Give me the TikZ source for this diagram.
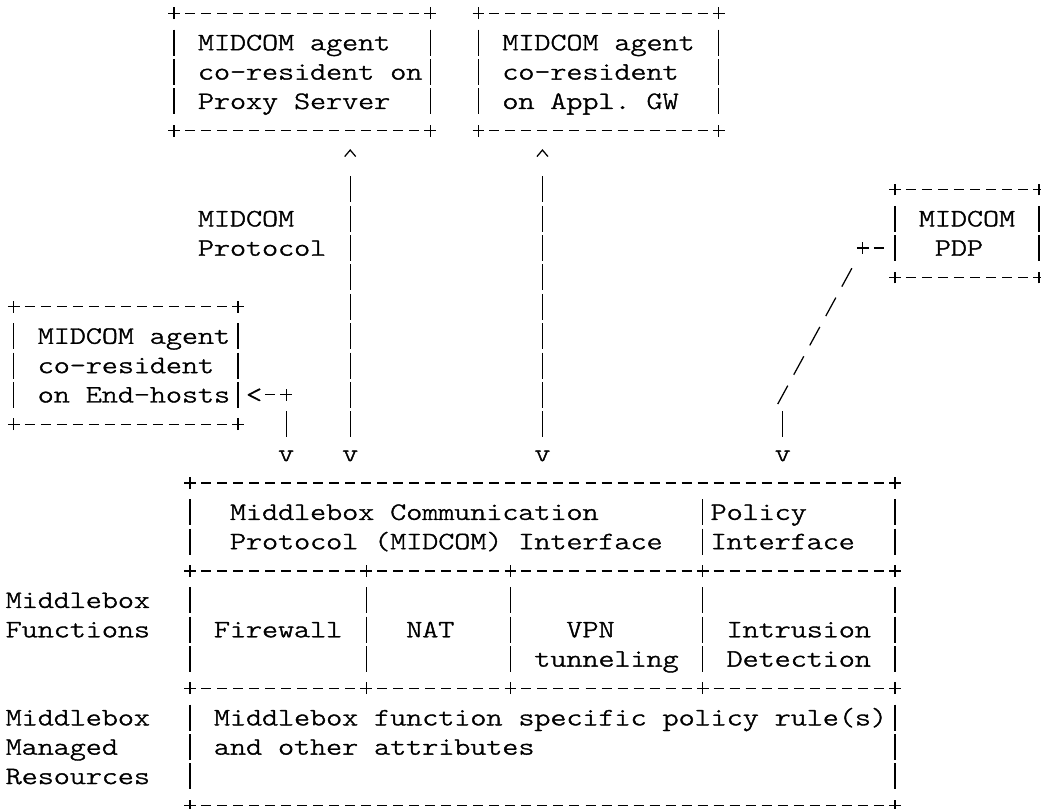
\documentclass[tikz,border=0pt]{standalone}
\usepackage{fontspec}
\usepackage{graphicx}
\newfontfamily\asciiff[FakeBold=1.5]{lmmonolt10-regular.otf}
\usetikzlibrary{calc,shapes.misc}
\newcommand{\asciifont}{\fontsize{24.9pt}{29.35pt}\selectfont\asciiff\frenchspacing}
\newcommand{\wide}[1]{\scalebox{1.2257}[1]{#1}}
\newcommand{\lines}[1]{\wide{\begin{tabular}[t]{@{}l@{}}#1\end{tabular}}}
\tikzset{
  asciiline/.style={line width=1.25pt, draw=black},
  hdash/.style={asciiline, dash pattern=on 10pt off 6.02pt, dash phase=13.01pt, shorten <=8.01pt, shorten >=8.01pt},
  vbar/.style={asciiline, dash pattern=on 26pt off 3.35pt, dash phase=27.675pt, shorten <=14.675pt, shorten >=14.675pt},
  slashline/.style={asciiline, dash pattern=on 21pt off 12.44pt, dash phase=27.22pt, shorten <=16.72pt},
  txt/.style={font=\asciifont, inner sep=0pt, outer sep=0pt, text height=15.2pt, text depth=0pt, anchor=west},
  glyph/.style={font=\asciifont, inner sep=0pt, outer sep=0pt, text height=15.2pt, text depth=0pt, anchor=center},
  plus/.style={cross out, draw=black, line width=1.25pt, minimum size=8.3pt, inner sep=0pt, outer sep=0pt, rotate=45},
  cell/.style 2 args={rectangle, inner sep=0pt, outer sep=0pt, minimum width={#1*16.02pt}, minimum height={#2*29.35pt}},
}
\newcommand{\asciibox}[1]{%
  \draw[hdash] (#1.north west) -- (#1.north east);
  \draw[hdash] (#1.south west) -- (#1.south east);
  \draw[vbar] (#1.north west) -- (#1.south west);
  \draw[vbar] (#1.north east) -- (#1.south east);
  \node[plus] (#1-nw) at (#1.north west) {};
  \node[plus] (#1-ne) at (#1.north east) {};
  \node[plus] (#1-sw) at (#1.south west) {};
  \node[plus] (#1-se) at (#1.south east) {};
}
% caret arrowhead "^" drawn above the centre of a named glyph node
\newcommand{\caret}[1]{%
  \draw[asciiline, line join=miter] ([shift={(-5.5pt,3.5pt)}]#1.center) -- ([shift={(0pt,10pt)}]#1.center) -- ([shift={(5.5pt,3.5pt)}]#1.center);
}
\begin{document}
\begin{tikzpicture}[x=16.02pt, y=-29.35pt]
\useasboundingbox (-0.86,-0.453) rectangle (64.12,27.11);

% ---- boxes (grid: x = column centre, y = row centre)
\node[cell={16}{4}] (proxy) at (18,2) {};
\node[cell={15}{4}] (applgw) at (36.5,2) {};
\node[cell={9}{3}] (pdp) at (59.5,7.5) {};
\node[cell={14}{4}] (endhost) at (7,12) {};
\node[cell={44}{11}] (mb) at (33,21.5) {};
\node[cell={32}{3}] (mbproto) at (27,17.5) {};
\node[cell={12}{3}] (mbpolicy) at (49,17.5) {};
\node[cell={11}{4}] (fw) at (16.5,21) {};
\node[cell={9}{4}] (nat) at (26.5,21) {};
\node[cell={12}{4}] (vpn) at (37,21) {};
\node[cell={12}{4}] (ids) at (49,21) {};
\node[cell={44}{4}] (res) at (33,25) {};

\asciibox{proxy}
\asciibox{applgw}
\asciibox{pdp}
\asciibox{endhost}

% ---- middlebox table
\draw[hdash] (mb.north west) -- (mb.north east);
\draw[hdash] (mb.south west) -- (mb.south east);
\draw[hdash] (fw.north west) -- (ids.north east);
\draw[hdash] (res.north west) -- (res.north east);
\foreach \n in {mbproto,fw,res} \draw[vbar] (\n.north west) -- (\n.south west);
\foreach \n in {mbpolicy,ids,res} \draw[vbar] (\n.north east) -- (\n.south east);
\foreach \n in {mbpolicy,nat,vpn,ids} \draw[vbar] (\n.north west) -- (\n.south west);
\node[plus] (mb-nw) at (mb.north west) {};
\node[plus] (mb-ne) at (mb.north east) {};
\node[plus] (mb-sw) at (mb.south west) {};
\node[plus] (mb-se) at (mb.south east) {};
\foreach \n in {fw,nat,vpn,ids} {
  \node[plus] (\n-top) at (\n.north west) {};
  \node[plus] (\n-bot) at (\n.south west) {};
}
\node[plus] (ids-tr) at (ids.north east) {};
\node[plus] (ids-br) at (ids.south east) {};

% ---- connectors
\node[glyph] (proxyup) at ($(proxy.south)+(3,1)$) {};
\caret{proxyup}
\node[glyph] (proxydn) at ($(proxyup |- mb.north)+(0,-1)$) {\wide{v}};
\draw[vbar] (proxyup.center) -- (proxydn.center);

\node[glyph] (gwup) at ($(applgw.south)+(-3.5,1)$) {};
\caret{gwup}
\node[glyph] (gwdn) at ($(gwup |- mb.north)+(0,-1)$) {\wide{v}};
\draw[vbar] (gwup.center) -- (gwdn.center);

\node[glyph] (ehtip) at ($(endhost.east)+(1,1)$) {\wide{<}};
\node[plus] (ehcorner) at ($(ehtip)+(2,0)$) {};
\node[glyph] (ehdn) at ($(ehcorner |- mb.north)+(0,-1)$) {\wide{v}};
\draw[hdash] (ehtip.center) -- (ehcorner.center);
\draw[vbar] (ehcorner.center) -- (ehdn.center);

\node[plus] (pdpknee) at ($(pdp.west)+(-2,0.5)$) {};
\node[glyph] (pdpdn) at ($(pdpknee |- mb.north)+(-5,-1)$) {\wide{v}};
\coordinate (pdpbend) at ($(pdpdn)+(0,-2)$);
\draw[hdash] (pdpknee.center) -- (pdp.west |- pdpknee);
\draw[slashline] (pdpknee.center) -- ($(pdpbend)+(-0.5,0.5)$);
\draw[vbar] (pdpbend) -- (pdpdn.center);

% ---- texts
\node[txt] (proxytxt) at (11.5,1) {\lines{MIDCOM agent\\co-resident on\\Proxy Server}};
\node[txt] (gwtxt) at (30.5,1) {\lines{MIDCOM agent\\co-resident\\on Appl. GW}};
\node[txt] (pdptxt1) at (56.5,7) {\wide{MIDCOM}};
\node[txt] (pdptxt2) at (57.5,8) {\wide{PDP}};
\node[txt] (ehtxt) at (1.5,11) {\lines{MIDCOM agent\\co-resident\\on End-hosts}};
\node[txt] (protolabel) at (11.5,7) {\lines{MIDCOM\\Protocol}};
\node[txt] (mbprototxt) at (13.5,17) {\lines{Middlebox Communication\\Protocol (MIDCOM) Interface}};
\node[txt] (mbpolicytxt) at (43.5,17) {\lines{Policy\\Interface}};
\node[txt] (fwtxt) at (12.5,21) {\wide{Firewall}};
\node[txt] (nattxt) at (24.5,21) {\wide{NAT}};
\node[txt] (vpntxt1) at (34.5,21) {\wide{VPN}};
\node[txt] (vpntxt2) at (32.5,22) {\wide{tunneling}};
\node[txt] (idstxt) at (44.5,21) {\lines{Intrusion\\Detection}};
\node[txt] (restxt) at (12.5,24) {\lines{Middlebox function specific policy rule(s)\\and other attributes}};
\node[txt] (funclabel) at (-0.5,20) {\lines{Middlebox\\Functions}};
\node[txt] (reslabel) at (-0.5,24) {\lines{Middlebox\\Managed\\Resources}};
\end{tikzpicture}
\end{document}
